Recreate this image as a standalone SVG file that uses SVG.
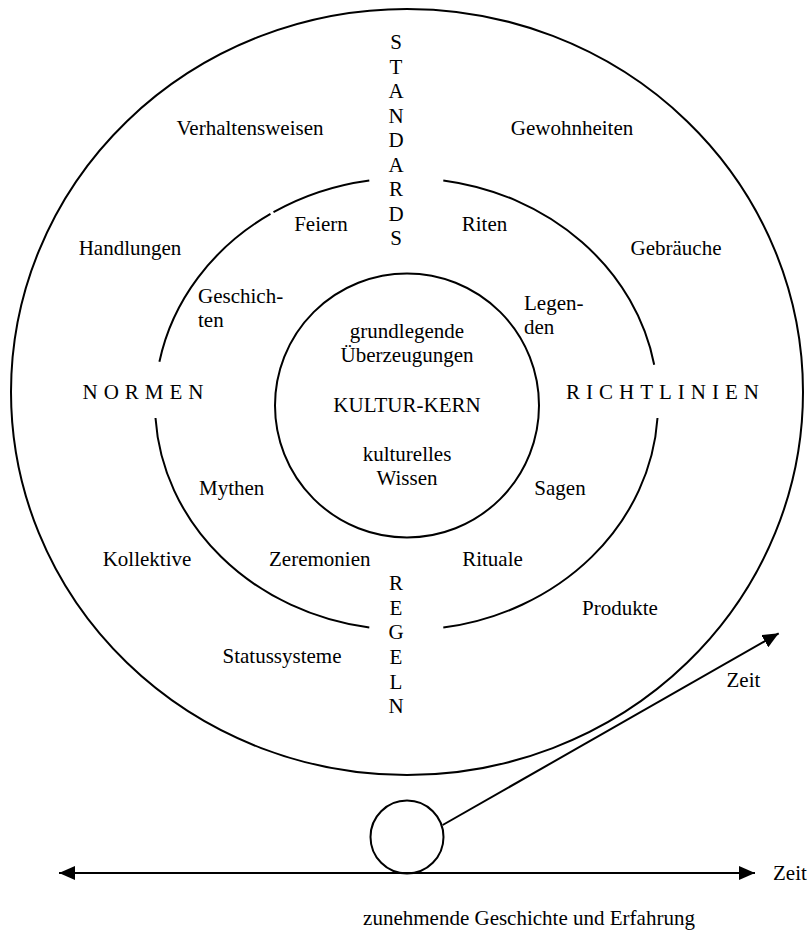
<svg xmlns="http://www.w3.org/2000/svg" width="809" height="930" viewBox="0 0 809 930">
  <style>
    .ring { fill: none; stroke: #000; stroke-width: 2; }
    .conn { fill: none; stroke: #000; stroke-width: 2; }
    text { font-family: "Liberation Serif", "Times New Roman", serif; font-size: 21px; fill: #000; }
    .mid { text-anchor: middle; }
    .spaced { letter-spacing: 6px; }
  </style>
  <defs>
    <marker id="head" viewBox="0 0 16 14" refX="16" refY="7" markerWidth="16" markerHeight="14" markerUnits="userSpaceOnUse" orient="auto-start-reverse">
      <path d="M0,0 L16,7 L0,14 z" fill="#000"/>
    </marker>
  </defs>

  <rect width="809" height="930" fill="#fff"/>

  <!-- outer ring: behaviour -->
  <g id="outer-ring">
    <ellipse class="ring" cx="407" cy="392" rx="396" ry="383"/>
    <text class="mid" x="250" y="135">Verhaltensweisen</text>
    <text class="mid" x="572" y="135">Gewohnheiten</text>
    <text class="mid" x="130" y="255">Handlungen</text>
    <text class="mid" x="676" y="255">Gebräuche</text>
    <text class="mid" x="147" y="566">Kollektive</text>
    <text class="mid" x="620" y="615">Produkte</text>
    <text class="mid" x="282" y="663">Statussysteme</text>
  </g>

  <!-- middle ring, broken where the axis labels pass -->
  <g id="middle-ring">
    <path class="ring" d="M443.3,180.4 A251.5,226 0 0 1 654.2,364.8"/>
    <path class="ring" d="M657.5,418 A251.5,226 0 0 1 443.3,627.6"/>
    <path class="ring" d="M369.3,627.6 A251.5,226 0 0 1 155.5,418"/>
    <path class="ring" d="M159.4,361.8 A251.5,226 0 0 1 270.5,213.9"/>
    <path class="ring" d="M273.5,212.2 A251.5,226 0 0 1 369.3,180.5"/>
    <text class="mid" x="321" y="231">Feiern</text>
    <text class="mid" x="484.5" y="231">Riten</text>
    <text x="198" y="303">Geschich-</text>
    <text x="198" y="327">ten</text>
    <text x="524" y="310">Legen-</text>
    <text x="524" y="334">den</text>
    <text x="199" y="495">Mythen</text>
    <text class="mid" x="560" y="495">Sagen</text>
    <text x="269" y="566">Zeremonien</text>
    <text class="mid" x="492.5" y="566">Rituale</text>
  </g>

  <!-- culture core -->
  <g id="core">
    <circle class="ring" cx="407" cy="405.5" r="132"/>
    <text class="mid" x="407" y="338">grundlegende</text>
    <text class="mid" x="407" y="362">Überzeugungen</text>
    <text class="mid" x="407" y="412">KULTUR-KERN</text>
    <text class="mid" x="407" y="461">kulturelles</text>
    <text class="mid" x="407" y="485">Wissen</text>
  </g>

  <!-- axis labels -->
  <g id="axis-standards" class="mid">
    <text class="mid" x="396" y="49.3">S</text>
    <text class="mid" x="396" y="73.8">T</text>
    <text class="mid" x="396" y="98.2">A</text>
    <text class="mid" x="396" y="122.7">N</text>
    <text class="mid" x="396" y="147.1">D</text>
    <text class="mid" x="396" y="171.6">A</text>
    <text class="mid" x="396" y="196.1">R</text>
    <text class="mid" x="396" y="220.5">D</text>
    <text class="mid" x="396" y="245">S</text>
  </g>
  <g id="axis-regeln">
    <text class="mid" x="396" y="590">R</text>
    <text class="mid" x="396" y="614.7">E</text>
    <text class="mid" x="396" y="639.3">G</text>
    <text class="mid" x="396" y="664">E</text>
    <text class="mid" x="396" y="688.7">L</text>
    <text class="mid" x="396" y="713.3">N</text>
  </g>
  <g id="axis-normen">
    <text class="spaced" x="82.5" y="399">NORMEN</text>
  </g>
  <g id="axis-richtlinien">
    <text class="spaced" x="566" y="399">RICHTLINIEN</text>
  </g>

  <!-- rolling culture on the time line -->
  <g id="culture-ball">
    <circle class="ring" cx="407" cy="837" r="36.5"/>
  </g>

  <g id="connectors">
    <line class="conn" x1="59" y1="873" x2="755" y2="873" marker-start="url(#head)" marker-end="url(#head)"/>
    <line class="conn" x1="442.7" y1="825" x2="778.7" y2="633.3" marker-end="url(#head)"/>
  </g>

  <g id="time-labels">
    <text x="726.5" y="687">Zeit</text>
    <text x="773" y="879.5">Zeit</text>
    <text class="mid" x="529" y="925">zunehmende Geschichte und Erfahrung</text>
  </g>
</svg>
